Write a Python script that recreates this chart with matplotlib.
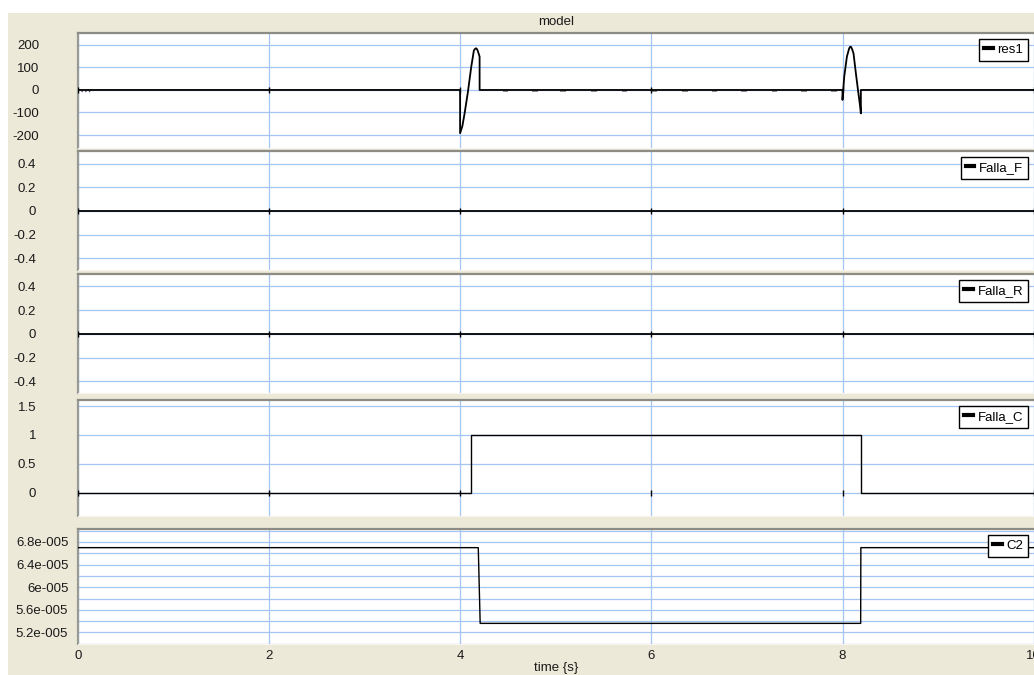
import matplotlib
matplotlib.use('Agg')
import matplotlib.pyplot as plt
from matplotlib.patches import Rectangle
from matplotlib.lines import Line2D
from matplotlib.ticker import MultipleLocator

plt.rcParams['font.family'] = ['Liberation Sans', 'DejaVu Sans']

W, H = 1034, 675
BEIGE = '#ECE9D8'
GRID = '#a4c6f2'

x_ticks = [0, 2, 4, 6, 8, 10]

# res1 transients at the two switching instants
res1_t = [0.0, 4.0, 4.0, 4.024, 4.047, 4.082, 4.117, 4.144, 4.157, 4.169, 4.181, 4.193, 4.204, 4.204,
          8.0, 8.0, 8.018, 8.046, 8.07, 8.079, 8.088, 8.10, 8.115, 8.14, 8.164, 8.185, 8.192, 8.192, 10.0]
res1_v = [0, 0, -192, -160, -104, -8, 104, 175, 183, 185, 178, 163, 148, 0,
          0, -44, 59, 148, 185, 191, 192, 182, 163, 74, -7, -74, -104, 0, 0]
# small ripple dips on res1 between the transients
ripple_t = [4.475, 4.78, 5.08, 5.40, 5.72, 6.03, 6.35, 6.66, 6.97, 7.29, 7.60, 7.91]
ripple_v = -6

falla_f_t = [0, 10]
falla_f_v = [0, 0]
falla_r_t = [0, 10]
falla_r_v = [0, 0]
falla_c_t = [0, 4.11, 4.11, 8.19, 8.19, 10]
falla_c_v = [0, 0, 1, 1, 0, 0]
c2_t = [0, 4.19, 4.21, 8.19, 8.192, 10]
c2_v = [6.70e-5, 6.70e-5, 5.36e-5, 5.36e-5, 6.70e-5, 6.70e-5]

c2_ticks = [5.2e-5, 5.6e-5, 6.0e-5, 6.4e-5, 6.8e-5]
c2_labels = ['5.2e-005', '5.6e-005', '6e-005', '6.4e-005', '6.8e-005']

# (top px, bottom px, ylim, yticks, ytick labels, label pad pt)
panels = [
    (33, 148.3, (-259, 253), [-200, -100, 0, 100, 200], None, 27.6),
    (151, 270, (-0.499, 0.507), [-0.4, -0.2, 0, 0.2, 0.4], None, 29.8),
    (274, 393, (-0.497, 0.505), [-0.4, -0.2, 0, 0.2, 0.4], None, 29.8),
    (400, 516, (-0.403, 1.604), [0, 0.5, 1, 1.5], None, 29.8),
    (529, 644, (4.995e-5, 7.03e-5), c2_ticks, c2_labels, 6.8),
]
series = [
    ('res1', res1_t, res1_v),
    ('Falla_F', falla_f_t, falla_f_v),
    ('Falla_R', falla_r_t, falla_r_v),
    ('Falla_C', falla_c_t, falla_c_v),
    ('C2', c2_t, c2_v),
]

fig = plt.figure(figsize=(W / 100, H / 100), dpi=100)
fig.patch.set_facecolor('white')
fig.patches.append(Rectangle((8 / W, 0), 1, 1 - 13 / H, transform=fig.transFigure,
                             facecolor=BEIGE, edgecolor='none', zorder=-10))

x0, x1 = 77.7, 1033.7
axes = []
for (top, bot, ylim, yt, ylab, pad), (name, t, v) in zip(panels, series):
    ax = fig.add_axes([x0 / W, 1 - bot / H, (x1 - x0) / W, (bot - top) / H])
    ax.set_facecolor('white')
    ax.set_xlim(0, 10)
    ax.set_ylim(*ylim)
    ax.set_xticks(x_ticks)
    ax.set_yticks(yt)
    if ylab is not None:
        ax.set_yticklabels(ylab)
        ax.yaxis.set_minor_locator(MultipleLocator(0.2e-5))
        ax.grid(True, which='minor', axis='y', color=GRID, lw=0.9)
    else:
        ax.set_yticklabels([f'{y:g}' for y in yt])
    ax.grid(True, which='major', color=GRID, lw=0.9)
    ax.set_axisbelow(True)
    ax.tick_params(axis='y', which='both', length=0, pad=pad, labelsize=9.5, colors='#1a1a1a')
    ax.tick_params(axis='x', length=0, pad=4, labelsize=9.5, colors='#1a1a1a')
    ax.spines['top'].set_color('#8c8c84')
    ax.spines['top'].set_linewidth(1.6)
    ax.spines['left'].set_color('#9a9a94')
    ax.spines['left'].set_linewidth(1.6)
    ax.spines['bottom'].set_color('#f6f4ec')
    ax.spines['right'].set_color('#d0d0d0')

    lw = 1.0 if name in ('Falla_C', 'C2') else 1.3
    ax.plot(t, v, color='black', lw=lw, zorder=3)
    if ylim[0] < 0 < ylim[1]:
        ax.plot(x_ticks, [0] * len(x_ticks), ls='none', marker='|', ms=4.5, mew=1,
                color='black', zorder=4)

    leg = ax.legend(handles=[Line2D([], [], color='black', lw=3)], labels=[name],
                    loc='upper right', fancybox=False, framealpha=1, edgecolor='black',
                    handlelength=0.65, handletextpad=0.35, borderpad=0.38,
                    borderaxespad=0.42, fontsize=9.5)
    leg.get_frame().set_linewidth(1.0)
    leg.set_zorder(10)
    axes.append(ax)

# ripple dips drawn as short grey dashes just under the zero line
ax1 = axes[0]
ax1.hlines([ripple_v] * len(ripple_t), [r - 0.03 for r in ripple_t], [r + 0.03 for r in ripple_t],
           color='#777777', lw=1.2, zorder=2)
ax1.hlines(-5, 0.03, 0.13, color='#555555', lw=1.0, linestyles=':', zorder=2)

for ax in axes[:-1]:
    ax.tick_params(axis='x', labelbottom=False)
axes[-1].set_xlabel('time {s}', fontsize=9.5, labelpad=0, color='#1a1a1a')

fig.text((x0 + x1) / 2 / W, 1 - 22 / H, 'model', ha='center', va='center',
         fontsize=9.5, color='#1a1a1a')

fig.savefig('out.png', dpi=100, facecolor=fig.get_facecolor())
